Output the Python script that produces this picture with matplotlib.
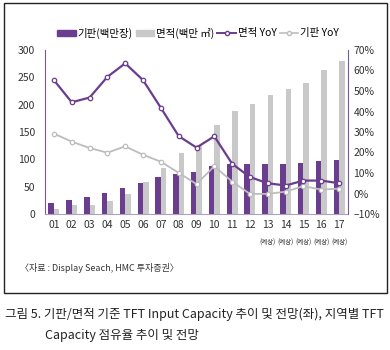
import matplotlib
matplotlib.use("Agg")
import matplotlib.pyplot as plt
from matplotlib.patches import Rectangle
from matplotlib.lines import Line2D
import numpy as np

plt.rcParams['font.family'] = ['Noto Sans CJK KR', 'DejaVu Sans']

years = ['01','02','03','04','05','06','07','08','09','10','11','12','13','14','15','16','17']
forecast = ['', '', '', '', '', '', '', '', '', '', '', '', '(예상)', '(예상)', '(예상)', '(예상)', '(예상)']
substrate = [20, 26, 32, 39, 48, 57, 67, 73, 77, 88, 92, 92, 91, 92, 94, 97, 99]
area = [9, 16, 16, 23, 36, 58, 84, 112, 126, 162, 188, 201, 217, 228, 240, 263, 280]
area_yoy = [55.3, 44.5, 46.8, 56.9, 63.5, 55.3, 41.8, 28.0, 22.4, 27.9, 14.5, 8.0, 5.0, 3.9, 6.3, 6.3, 5.0]
sub_yoy = [29.2, 25.3, 22.2, 19.9, 23.0, 18.9, 15.5, 10.1, 4.6, 13.3, 5.8, -0.2, -0.2, 0.9, 3.6, 1.9, 2.4]

PURPLE = '#6a3d8f'
GRAY = '#c9c9c9'
LGRAY = '#bdbdbd'

fig = plt.figure(figsize=(3.9, 3.5), dpi=100)
fig.patch.set_facecolor('white')

# outer box
fig.add_artist(Rectangle((4/390, 1-293/350), 383/390, 290/350, transform=fig.transFigure,
                         fill=False, edgecolor='#222222', linewidth=1.0))

ax = fig.add_axes([45/390, 1-214/350, 303/390, 164/350])
x = np.arange(len(years))
w = 0.31
ax.bar(x - w/2, substrate, width=w, color=PURPLE, zorder=2)
ax.bar(x + w/2, area, width=w, color=GRAY, zorder=2)
ax.set_xlim(-0.5, len(years) - 0.5)
ax.set_ylim(0, 300)
ax.set_yticks(range(0, 301, 50))
ax.tick_params(axis='y', length=0, pad=7, labelsize=7.5, colors='#333333')
ax.tick_params(axis='x', length=0, pad=4, labelsize=7.5, colors='#333333')
ax.set_xticks(x)
ax.set_xticklabels(years)
for s in ['top', 'right']:
    ax.spines[s].set_visible(False)
ax.spines['left'].set_color('#7a5a9a')
ax.spines['bottom'].set_color('#b0a0c0')
ax.spines['left'].set_linewidth(0.8)
ax.spines['bottom'].set_linewidth(0.8)

for i, f in enumerate(forecast):
    if f:
        ax.text(x[i], -0.15, f, transform=ax.get_xaxis_transform(), ha='center', va='top',
                fontsize=4.6, color='#333333')

ax2 = ax.twinx()
ax2.set_ylim(-10, 70)
ax2.set_yticks(range(-10, 71, 10))
ax2.set_yticklabels(['–10%' if v < 0 else f'{v}%' for v in range(-10, 71, 10)])
ax2.tick_params(axis='y', length=0, pad=4, labelsize=7.5, colors='#333333')
for s in ['top', 'left', 'bottom']:
    ax2.spines[s].set_visible(False)
ax2.spines['right'].set_color('#7a5a9a')
ax2.spines['right'].set_linewidth(0.8)
ax2.plot(x, sub_yoy, color=LGRAY, linewidth=1.3, marker='o', markersize=3.2,
         markerfacecolor='white', markeredgecolor=LGRAY, markeredgewidth=0.9, zorder=3)
ax2.plot(x, area_yoy, color=PURPLE, linewidth=1.6, marker='o', markersize=3.2,
         markerfacecolor='white', markeredgecolor=PURPLE, markeredgewidth=0.9, zorder=4)

# legend
handles = [Rectangle((0, 0), 1, 1, color=PURPLE),
           Rectangle((0, 0), 1, 1, color=GRAY),
           Line2D([], [], color=PURPLE, linewidth=1.4, marker='o', markersize=3,
                  markerfacecolor='white', markeredgecolor=PURPLE),
           Line2D([], [], color=LGRAY, linewidth=1.2, marker='o', markersize=3,
                  markerfacecolor='white', markeredgecolor=LGRAY)]
labels = ['기판(백만장)', '면적(백만 ㎡)', '면적 YoY', '기판 YoY']
fig.legend(handles, labels, loc='center', bbox_to_anchor=(198/390, 1-33/350), ncol=4,
           frameon=False, fontsize=7.5, handlelength=1.8, handletextpad=0.15,
           columnspacing=0.3, borderaxespad=0, handleheight=0.55)

fig.text(20/390, 1-268/350, '〈자료 : Display Seach, HMC 투자증권〉', fontsize=6.5,
         va='center', ha='left', color='#333333')

fig.text(5/390, 1-314/350, '그림 5. 기판/면적 기준 TFT Input Capacity 추이 및 전망(좌), 지역별 TFT',
         fontsize=9, va='center', ha='left', color='#222222')
fig.text(45/390, 1-336/350, 'Capacity 점유율 추이 및 전망',
         fontsize=9, va='center', ha='left', color='#222222')

fig.savefig('out.png', dpi=100)
